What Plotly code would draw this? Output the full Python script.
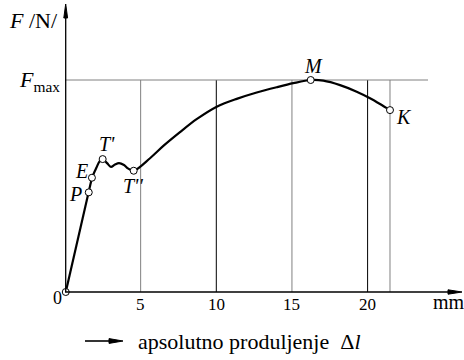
import plotly.graph_objects as go

# Force-elongation curve (elongation in mm, force in % of Fmax)
elastic_x = [0.05, 1.57, 1.78]
elastic_y = [0.0, 47.0, 53.9]

curve_x = [1.78, 2.08, 2.28, 2.49, 2.78, 3.04, 3.30, 3.57, 3.90, 4.16, 4.54,
           5.62, 6.50, 7.60, 8.70, 10.03, 11.35, 12.67, 13.99, 15.09, 16.24,
           17.07, 18.18, 19.28, 20.16, 20.82, 21.48]
curve_y = [53.9, 58.7, 61.6, 62.7, 60.8, 59.0, 60.1, 60.8, 59.9, 58.3, 57.2,
           63.1, 68.9, 75.4, 81.5, 87.4, 91.1, 94.1, 96.6, 98.5, 100.0,
           99.7, 97.6, 94.5, 91.4, 88.7, 85.8]

# Characteristic points
pt_names = ["P", "E", "T'", "T''", "M", "K"]
pt_x = [1.57, 1.78, 2.49, 4.54, 16.24, 21.48]
pt_y = [47.0, 53.9, 62.7, 57.2, 100.0, 85.8]
pt_label_dx = [-0.85, -0.72, 0.30, -0.02, 0.20, 0.90]
pt_label_dy = [-0.8, 3.1, 7.3, -7.4, 6.6, -3.4]

x_ticks = [5, 10, 15, 20]
x_tick_labels = ["5", "10", "15", "20"]
grid_x = [5, 10, 15, 20, 21.48]
grid_colors = ["#808080", "#000000", "#808080", "#000000", "#808080"]
F_MAX = 100.0

# Pixel-calibrated data ranges (plot area fills the whole figure)
PX_PER_X = 15.13
PX_PER_Y = 2.12
X0_PX, Y0_PX = 65.0, 292.0
W, H = 464, 360
xr = [-X0_PX / PX_PER_X, (W - X0_PX) / PX_PER_X]
yr = [-(H - Y0_PX) / PX_PER_Y, Y0_PX / PX_PER_Y]


def px(x):
    return (x - X0_PX) / PX_PER_X


def py(y):
    return (Y0_PX - y) / PX_PER_Y


FONT = "Liberation Serif, Times New Roman, serif"
fig = go.Figure()

shapes = []
# Vertical reference lines up to Fmax
for gx, gc in zip(grid_x, grid_colors):
    shapes.append(dict(type="line", x0=gx, x1=gx, y0=0, y1=F_MAX,
                       line=dict(color=gc, width=1), layer="below"))
# Fmax horizontal line
shapes.append(dict(type="line", x0=0, x1=px(428), y0=F_MAX, y1=F_MAX,
                   line=dict(color="#808080", width=1), layer="below"))
# Axes
shapes.append(dict(type="line", x0=px(65.7), x1=px(65.7), y0=0, y1=py(12),
                   line=dict(color="black", width=1.3)))
shapes.append(dict(type="line", x0=0, x1=px(452), y0=0, y1=0,
                   line=dict(color="black", width=1.3)))


def tri(tip, base1, base2):
    return dict(type="path",
                path=f"M {tip[0]},{tip[1]} L {base1[0]},{base1[1]} L {base2[0]},{base2[1]} Z",
                fillcolor="black", line=dict(color="black", width=1))


# Arrowheads
shapes.append(tri((px(65.7), py(4)), (px(63.8), py(18)), (px(67.6), py(18))))
shapes.append(tri((px(462), py(292)), (px(448), py(289.8)), (px(448), py(294.2))))
# Legend arrow under the chart
shapes.append(dict(type="line", x0=px(85), x1=px(112), y0=py(341), y1=py(341),
                   line=dict(color="black", width=1.6)))
shapes.append(tri((px(123), py(341)), (px(109), py(338.6)), (px(109), py(343.4))))

fig.add_trace(go.Scatter(x=elastic_x, y=elastic_y, mode="lines",
                         line=dict(color="black", width=2.2), hoverinfo="skip"))
fig.add_trace(go.Scatter(x=curve_x, y=curve_y, mode="lines",
                         line=dict(color="black", width=2.2, shape="spline", smoothing=0.9),
                         hoverinfo="skip"))
fig.add_trace(go.Scatter(x=pt_x + [0.05], y=pt_y + [0.0], mode="markers",
                         marker=dict(symbol="circle", size=7, color="white",
                                     line=dict(color="black", width=1)),
                         hoverinfo="skip"))

ann = []
for name, x, y, dx, dy in zip(pt_names, pt_x, pt_y, pt_label_dx, pt_label_dy):
    ann.append(dict(x=x + dx, y=y + dy, text=f"<i>{name}</i>", showarrow=False,
                    font=dict(family=FONT, size=20, color="black")))
for tv, tl in zip(x_ticks, x_tick_labels):
    ann.append(dict(x=tv, y=py(304), text=tl, showarrow=False,
                    font=dict(family=FONT, size=17, color="black")))
ann.append(dict(x=px(57), y=py(298), text="0", showarrow=False,
                font=dict(family=FONT, size=18, color="black")))
ann.append(dict(x=px(431), y=py(302), text="mm", showarrow=False, xanchor="left",
                font=dict(family=FONT, size=20, color="black")))
ann.append(dict(x=px(33), y=py(20), text="<i>F</i> /N/", showarrow=False,
                font=dict(family=FONT, size=22, color="black")))
ann.append(dict(x=px(62), y=py(81), text="<i>F</i><sub>max</sub>", showarrow=False,
                xanchor="right", font=dict(family=FONT, size=22, color="black")))
ann.append(dict(x=px(136), y=py(341), text="apsolutno produljenje  Δ<i>l</i>",
                showarrow=False, xanchor="left",
                font=dict(family=FONT, size=22, color="black")))

fig.update_layout(
    width=W, height=H,
    margin=dict(l=0, r=0, t=0, b=0),
    paper_bgcolor="white", plot_bgcolor="white",
    showlegend=False,
    font=dict(family=FONT),
    shapes=shapes, annotations=ann,
    xaxis=dict(range=xr, visible=False, fixedrange=True),
    yaxis=dict(range=yr, visible=False, fixedrange=True),
)

fig.write_html("out.html")
